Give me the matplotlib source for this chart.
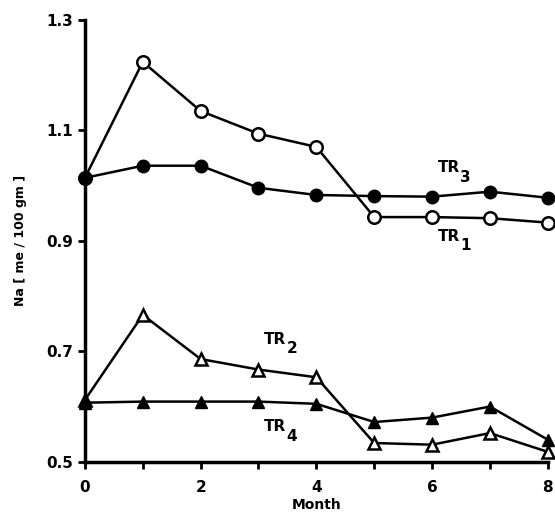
import numpy as np
import matplotlib
matplotlib.use('Agg')
import matplotlib.pyplot as plt

plt.rcParams['font.family'] = 'DejaVu Sans'
plt.rcParams['font.weight'] = 'bold'

months = [0, 1, 2, 3, 4, 5, 6, 7, 8]
tr1 = [1.014, 1.224, 1.135, 1.094, 1.070, 0.943, 0.943, 0.941, 0.933]
tr3 = [1.014, 1.036, 1.036, 0.996, 0.983, 0.981, 0.980, 0.989, 0.978]
tr2 = [0.612, 0.766, 0.686, 0.667, 0.653, 0.534, 0.531, 0.552, 0.518]
tr4 = [0.607, 0.609, 0.609, 0.609, 0.605, 0.572, 0.580, 0.600, 0.540]

fig = plt.figure(figsize=(5.55, 5.23), dpi=100)
ax = fig.add_axes([0.153, 0.117, 0.834, 0.845])

lw = 1.8
ax.plot(months, tr1, color='black', lw=lw, marker='o', ms=9, mfc='white',
        mec='black', mew=1.8, clip_on=False, zorder=3)
ax.plot(months, tr3, color='black', lw=lw, marker='o', ms=9, mfc='black',
        mec='black', clip_on=False, zorder=3)
ax.plot(months, tr2, color='black', lw=lw, marker='^', ms=9, mfc='white',
        mec='black', mew=1.8, clip_on=False, zorder=3)
ax.plot(months, tr4, color='black', lw=lw, marker='^', ms=9, mfc='black',
        mec='black', clip_on=False, zorder=3)

# series labels with lowered subscripts
labels = [('TR', '3', 6.1, 1.024), ('TR', '1', 6.1, 0.900),
          ('TR', '2', 3.1, 0.714), ('TR', '4', 3.1, 0.555)]
for base, sub, x, y in labels:
    ax.text(x, y, base, fontsize=11, fontweight='bold')
    ax.text(x + 0.38, y - 0.017, sub, fontsize=11, fontweight='bold')

ax.set_xlim(0, 8)
ax.set_ylim(0.5, 1.3)
ax.set_xticks(months)
ax.set_xticklabels(['0', '', '2', '', '4', '', '6', '', '8'])
ax.set_yticks([0.5, 0.7, 0.9, 1.1, 1.3])
ax.set_yticklabels(['0.5', '0.7', '0.9', '1.1', '1.3'])

for s in ['top', 'right']:
    ax.spines[s].set_visible(False)
for s in ['left', 'bottom']:
    ax.spines[s].set_linewidth(2.5)

ax.tick_params(axis='both', direction='out', width=2, length=5, labelsize=11)
ax.tick_params(axis='x', pad=8)

ax.set_xlabel('Month', fontsize=10, fontweight='bold', labelpad=2)
ax.set_ylabel('Na [ me / 100 gm ]', fontsize=9, fontweight='bold', labelpad=14)

fig.savefig('out.png', dpi=100)
